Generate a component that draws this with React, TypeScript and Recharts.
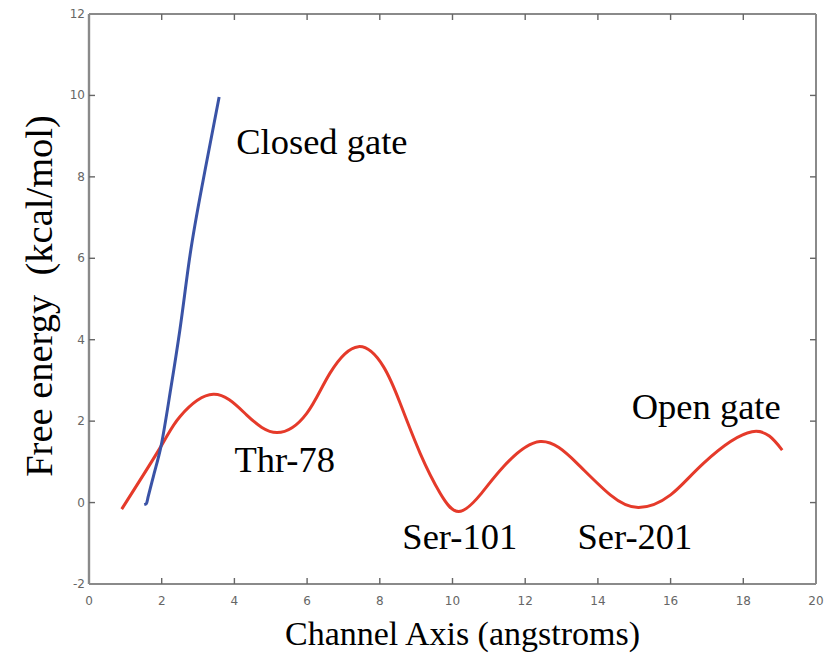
import React from 'react';
import { LineChart, Line, XAxis, YAxis, ReferenceDot } from 'recharts';

// ---- data ----
const xTicks = [0, 2, 4, 6, 8, 10, 12, 14, 16, 18, 20];
const yTicks = [-2, 0, 2, 4, 6, 8, 10, 12];

const openGateX = [0.9, 1.98, 2.5, 3.42, 4.34, 5.17, 5.99, 6.63, 7.41, 8.1, 8.56, 9.11, 9.66, 10.17, 10.76, 11.4, 12.41, 13.42, 14.34, 15.12, 16.0, 16.91, 18.24, 19.07];
const openGateY = [-0.16, 1.38, 2.11, 2.66, 2.15, 1.72, 2.19, 3.18, 3.83, 3.34, 2.44, 1.21, 0.23, -0.22, 0.19, 0.88, 1.5, 0.97, 0.19, -0.12, 0.19, 0.97, 1.74, 1.29];

const closedGateX = [1.52, 1.58, 1.63, 1.77, 1.98, 2.25, 2.5, 2.78, 3.2, 3.58];
const closedGateY = [-0.05, -0.02, 0.15, 0.64, 1.38, 2.8, 4.24, 6.08, 8.2, 9.96];

const noteText = ['Closed gate', 'Thr-78', 'Ser-101', 'Ser-201', 'Open gate'];
const noteX = [4.05, 4.0, 8.62, 13.44, 14.93];
const noteY = [8.56, 0.76, -1.14, -1.14, 2.05];

const xTitle = 'Channel Axis (angstroms)';
const yTitle = 'Free energy\u00A0 (kcal/mol)';

// ---- derived tables ----
const openData = openGateX.map((x, i) => ({ x, y: openGateY[i] }));
const closedData = closedGateX.map((x, i) => ({ x, y: closedGateY[i] }));
const notes = noteText.map((t, i) => ({ t, x: noteX[i], y: noteY[i] }));

const FRAME = '#8a8a8a';
const TICK = '#666';
const TICK_FONT = 'DejaVu Sans, sans-serif';
const SERIF = '"Liberation Serif", "Times New Roman", serif';

const BottomTick = (props: any) => {
  const { x, y, payload } = props;
  const v = payload.value;
  const edge = v === 0 || v === 20;
  return (
    <g>
      {!edge && <line x1={x} x2={x} y1={y} y2={y - 6} stroke={TICK} strokeWidth={1.4} />}
      <text x={x} y={y + 21} textAnchor="middle" fontSize={12} fontFamily={TICK_FONT} fill="#666">
        {v}
      </text>
    </g>
  );
};

const TopTick = (props: any) => {
  const { x, y, payload } = props;
  const v = payload.value;
  if (v === 0 || v === 20) return <g />;
  return <line x1={x} x2={x} y1={y} y2={y + 6} stroke={TICK} strokeWidth={1.4} />;
};

const LeftTick = (props: any) => {
  const { x, y, payload } = props;
  const v = payload.value;
  const edge = v === -2 || v === 12;
  return (
    <g>
      {!edge && <line x1={x} x2={x + 6} y1={y} y2={y} stroke={TICK} strokeWidth={1.4} />}
      <text x={x - 4} y={y + 4} textAnchor="end" fontSize={12} fontFamily={TICK_FONT} fill="#666">
        {v}
      </text>
    </g>
  );
};

const RightTick = (props: any) => {
  const { x, y, payload } = props;
  const v = payload.value;
  if (v === -2 || v === 12) return <g />;
  return <line x1={x} x2={x - 6} y1={y} y2={y} stroke={TICK} strokeWidth={1.4} />;
};

const NoteShape = (text: string) => (props: any) => (
  <text x={props.cx} y={props.cy} fontSize={36.5} fontFamily={SERIF} fill="#000">
    {text}
  </text>
);

export default function App() {
  return (
    <div style={{ position: 'absolute', left: 0, top: 0, background: '#fff' }}>
      <LineChart width={825} height={656} margin={{ top: 13, right: 8, bottom: 0, left: 0 }}>
        <XAxis
          xAxisId="b"
          dataKey="x"
          type="number"
          domain={[0, 20]}
          ticks={xTicks}
          allowDataOverflow
          height={72}
          axisLine={{ stroke: FRAME, strokeWidth: 2 }}
          tickLine={false}
          tickSize={0}
          tickMargin={0}
          tick={<BottomTick />}
          interval={0}
          label={{
            content: (p: any) => {
              const vb = p.viewBox;
              return (
                <text x={vb.x + vb.width / 2 + 10} y={vb.y + 61} textAnchor="middle" fontSize={34} fontFamily={SERIF} fill="#000">
                  {xTitle}
                </text>
              );
            },
          }}
        />
        <XAxis
          xAxisId="t"
          orientation="top"
          dataKey="x"
          type="number"
          domain={[0, 20]}
          ticks={xTicks}
          allowDataOverflow
          height={1}
          axisLine={{ stroke: FRAME, strokeWidth: 2 }}
          tickLine={false}
          tickSize={0}
          tickMargin={0}
          tick={<TopTick />}
          interval={0}
        />
        <YAxis
          yAxisId="l"
          type="number"
          domain={[-2, 12]}
          ticks={yTicks}
          allowDataOverflow
          width={89}
          axisLine={{ stroke: FRAME, strokeWidth: 2.4 }}
          tickLine={false}
          tickSize={0}
          tickMargin={0}
          tick={<LeftTick />}
          interval={0}
          label={{
            content: (p: any) => {
              const vb = p.viewBox;
              const cx = vb.x + 39;
              const cy = vb.y + vb.height / 2 - 3;
              return (
                <text x={cx} y={cy} transform={`rotate(-90, ${cx}, ${cy})`} textAnchor="middle" dominantBaseline="central" fontSize={38.5} fontFamily={SERIF} fill="#000" style={{ whiteSpace: 'pre' }}>
                  {yTitle}
                </text>
              );
            },
          }}
        />
        <YAxis
          yAxisId="r"
          orientation="right"
          type="number"
          domain={[-2, 12]}
          ticks={yTicks}
          allowDataOverflow
          width={1}
          axisLine={{ stroke: FRAME, strokeWidth: 2 }}
          tickLine={false}
          tickSize={0}
          tickMargin={0}
          tick={<RightTick />}
          interval={0}
        />
        <Line
          xAxisId="b"
          yAxisId="l"
          data={openData}
          dataKey="y"
          type="natural"
          stroke="#e53a2a"
          strokeWidth={3}
          dot={false}
          activeDot={false}
          isAnimationActive={false}
        />
        <Line
          xAxisId="t"
          yAxisId="r"
          data={closedData}
          dataKey="y"
          type="monotone"
          stroke="#3a53a6"
          strokeWidth={3}
          dot={false}
          activeDot={false}
          isAnimationActive={false}
        />
        {notes.map((n) => (
          <ReferenceDot
            key={n.t}
            xAxisId="b"
            yAxisId="l"
            x={n.x}
            y={n.y}
            r={0}
            ifOverflow="visible"
            shape={NoteShape(n.t)}
          />
        ))}
      </LineChart>
    </div>
  );
}
